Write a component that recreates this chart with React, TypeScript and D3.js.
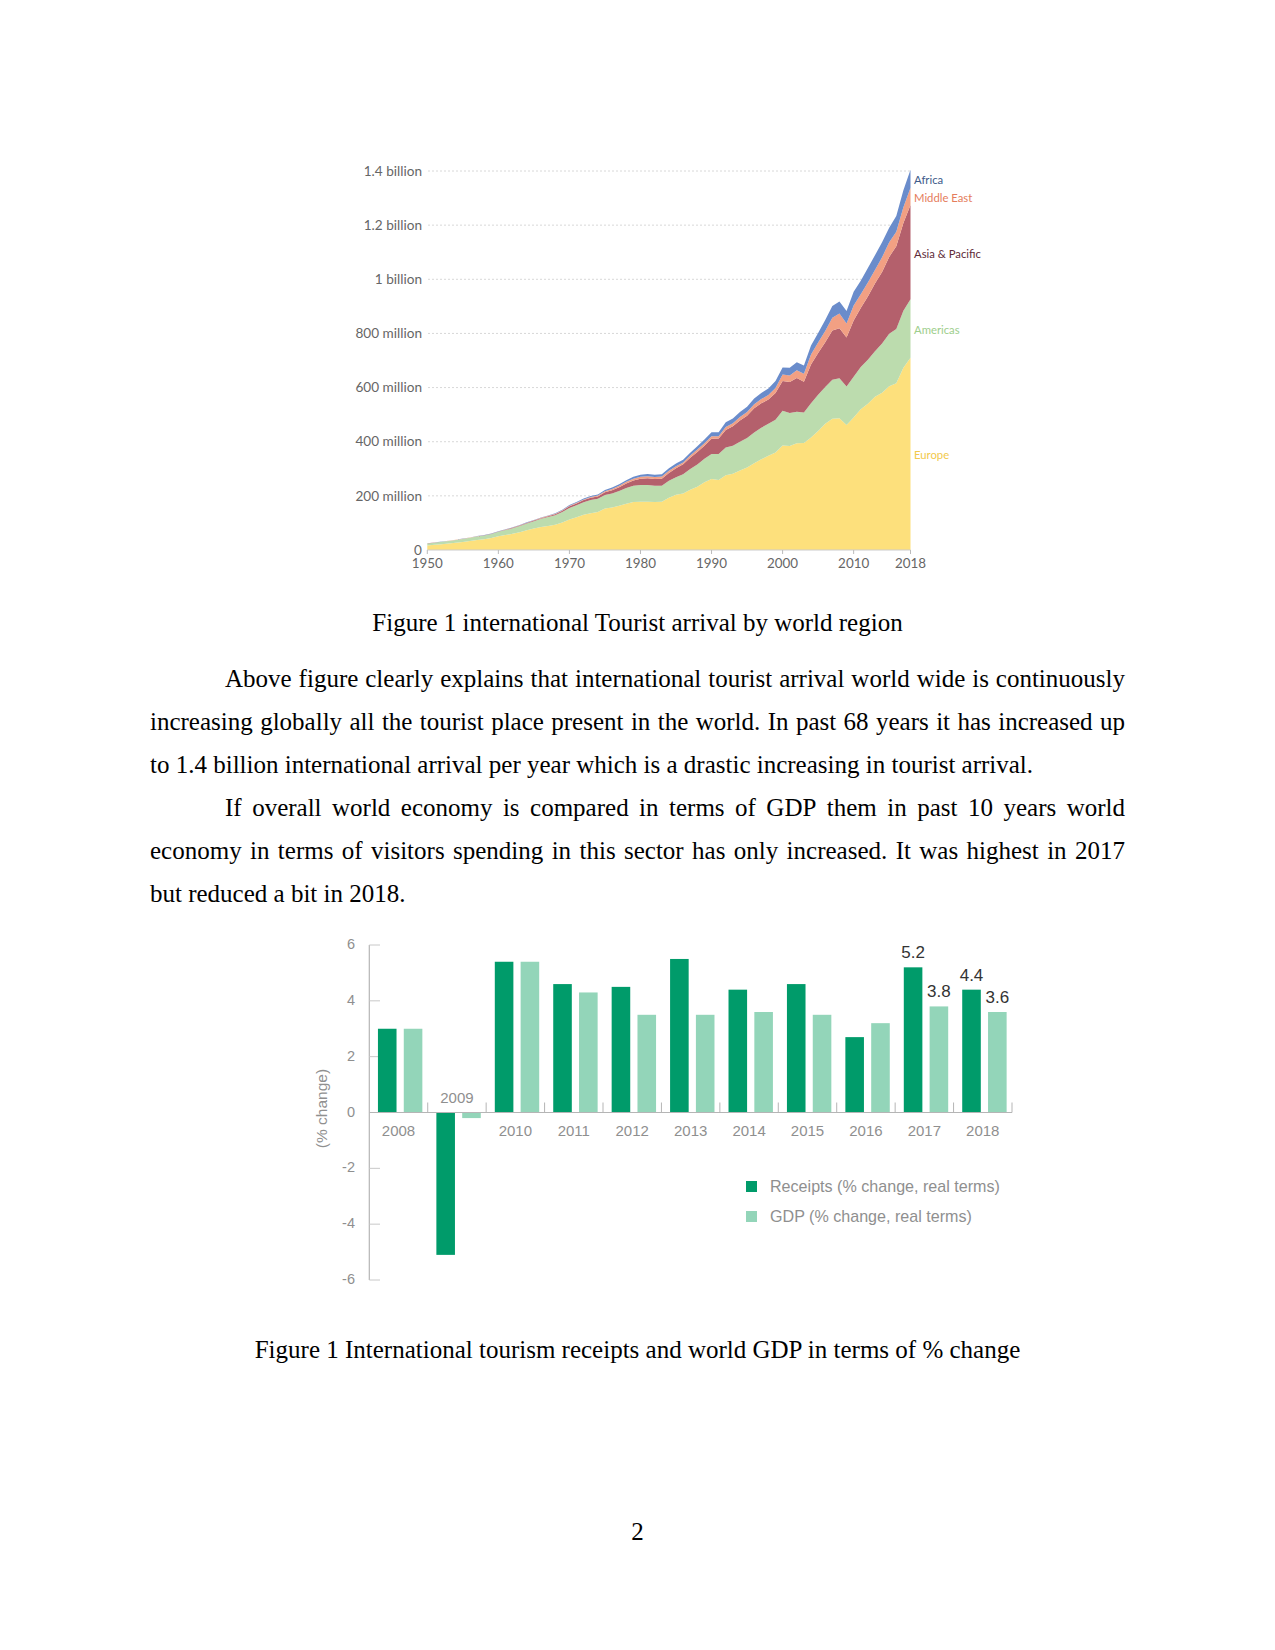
import React from 'react';
import * as d3 from 'd3';

// ---------- Chart 1 data: international tourist arrivals (millions) ----------
const arrivalYears = d3.range(1950, 2019);
const regionKeys = ['Europe', 'Americas', 'Asia & Pacific', 'Middle East', 'Africa'];
const europe = [
  16.8, 19.0, 21.5, 24.0, 27.0, 30.0, 33.5, 37.0, 40.0, 44.0,
  50.4, 55, 60, 66, 73, 79, 85, 89, 93, 102,
  113, 121, 130, 136, 140, 153, 157, 163, 171, 177,
  178, 178.5, 177, 178, 193, 204, 209, 223, 234, 250,
  262, 259, 276, 282, 294, 305, 320, 335, 348, 360,
  386, 384, 394, 395, 416, 440, 466, 485, 487, 462,
  489, 520, 540, 566, 581, 605, 616, 673, 710,
];
const americas = [
  7.5, 8.0, 8.6, 9.2, 9.8, 10.6, 11.5, 12.6, 13.6, 15.0,
  16.7, 18.5, 20.5, 22.8, 25.0, 27.5, 30.0, 33.0, 35.5, 38.5,
  42.3, 44.0, 46.5, 48.5, 49.0, 50.0, 52.0, 54.5, 58.0, 60.0,
  62.3, 62.0, 60.0, 59.5, 62.5, 65.1, 71.0, 76.5, 82.0, 87.0,
  92.8, 95.5, 102.5, 103.0, 105.5, 109.0, 114.5, 117.0, 118.5, 121.5,
  128.2, 122.1, 116.7, 113.1, 125.8, 133.3, 135.8, 143.9, 147.8, 141.7,
  150.7, 156.0, 163.1, 168.2, 182.0, 193.7, 200.0, 211.0, 216.0,
];
const asiaPacific = [
  0.2, 0.25, 0.3, 0.35, 0.4, 0.45, 0.5, 0.6, 0.7, 0.8,
  0.9, 1.1, 1.4, 1.7, 2.0, 2.1, 2.6, 3.1, 3.8, 4.7,
  6.2, 7.0, 7.8, 8.5, 9.0, 10.2, 12.0, 14.5, 17.0, 20.0,
  23.0, 24.5, 25.0, 26.0, 29.0, 32.9, 36.5, 41.5, 46.0, 48.0,
  55.8, 57.0, 65.0, 72.0, 79.0, 82.1, 89.0, 90.0, 89.5, 98.0,
  110.1, 114.5, 124.9, 113.3, 143.4, 154.0, 166.0, 182.0, 184.1, 181.1,
  208.2, 218.2, 233.6, 249.9, 264.3, 284.0, 306.0, 324.0, 348.0,
];
const middleEast = [
  0.2, 0.22, 0.25, 0.28, 0.3, 0.35, 0.4, 0.45, 0.5, 0.55,
  0.6, 0.7, 0.8, 0.9, 1.0, 1.1, 1.2, 1.1, 1.3, 1.6,
  1.9, 2.2, 2.6, 2.8, 3.2, 4.0, 4.5, 5.2, 6.0, 6.5,
  7.1, 7.5, 7.8, 7.9, 8.0, 7.5, 7.0, 8.0, 8.8, 9.0,
  9.6, 8.4, 11.0, 11.5, 12.5, 13.7, 15.0, 15.5, 16.5, 19.0,
  24.1, 24.0, 28.5, 29.5, 37.0, 39.0, 41.0, 47.0, 55.0, 52.0,
  55.4, 50.4, 51.7, 49.8, 54.0, 54.0, 54.0, 58.0, 64.0,
];
const africa = [
  0.5, 0.55, 0.6, 0.62, 0.65, 0.7, 0.72, 0.74, 0.76, 0.78,
  0.8, 0.9, 1.0, 1.1, 1.2, 1.3, 1.5, 1.6, 1.8, 2.1,
  2.4, 2.8, 3.2, 3.5, 4.0, 4.7, 5.0, 5.5, 6.0, 6.8,
  7.2, 8.0, 7.8, 8.5, 9.2, 9.7, 9.5, 10.5, 12.5, 13.8,
  14.8, 15.0, 17.0, 17.5, 18.5, 18.9, 21.0, 22.5, 24.5, 25.5,
  26.2, 28.3, 29.5, 30.7, 33.3, 35.4, 40.7, 43.4, 44.4, 45.9,
  50.4, 49.8, 52.9, 54.7, 55.7, 53.5, 57.8, 63.0, 67.0,
];
const arrivalSeries = [europe, americas, asiaPacific, middleEast, africa];
const yTickValues = [0, 200, 400, 600, 800, 1000, 1200, 1400];
const yTickLabels = ['0', '200 million', '400 million', '600 million', '800 million', '1 billion', '1.2 billion', '1.4 billion'];
const xTickYears = [1950, 1960, 1970, 1980, 1990, 2000, 2010, 2018];
const areaColors = ['#fde07c', '#bcdcae', '#b4606c', '#f2a083', '#6a8ccb'];
const labelColors = ['#f2c94c', '#9dce8c', '#5e2a38', '#e57c5c', '#3d5a8a'];

// ---------- Chart 2 data: receipts vs GDP (% change) ----------
const barYears = ['2008', '2009', '2010', '2011', '2012', '2013', '2014', '2015', '2016', '2017', '2018'];
const receipts = [3.0, -5.1, 5.4, 4.6, 4.5, 5.5, 4.4, 4.6, 2.7, 5.2, 4.4];
const gdp = [3.0, -0.2, 5.4, 4.3, 3.5, 3.5, 3.6, 3.5, 3.2, 3.8, 3.6];
const labeledBars = [
  { year: '2017', series: 'receipts', text: '5.2' },
  { year: '2017', series: 'gdp', text: '3.8' },
  { year: '2018', series: 'receipts', text: '4.4' },
  { year: '2018', series: 'gdp', text: '3.6' },
];
const barTicks = [-6, -4, -2, 0, 2, 4, 6];
const darkGreen = '#009b6a';
const lightGreen = '#93d5b9';

// ---------- Page text ----------
const caption1 = 'Figure 1 international Tourist arrival by world region';
const caption2 = 'Figure 1 International tourism receipts and world GDP in terms of % change';
const paraLines = [
  { text: 'Above figure clearly explains that international tourist arrival world wide is continuously', indent: true, justify: true },
  { text: 'increasing globally all the tourist place present in the world. In past 68 years it has increased up', indent: false, justify: true },
  { text: 'to 1.4 billion international arrival per year which is a drastic increasing in tourist arrival.', indent: false, justify: false },
  { text: 'If overall world economy is compared in terms of GDP them in past 10 years world', indent: true, justify: true },
  { text: 'economy in terms of visitors spending in this sector has only increased. It was highest in 2017', indent: false, justify: true },
  { text: 'but reduced a bit in 2018.', indent: false, justify: false },
];

const SERIF = "'Liberation Serif', 'Times New Roman', serif";
const FS = 25;
let ctx: CanvasRenderingContext2D | null = null;
function measure(t: string) {
  if (!ctx) {
    ctx = document.createElement('canvas').getContext('2d');
  }
  ctx!.font = `${FS}px 'Liberation Serif'`;
  return ctx!.measureText(t).width;
}

function JustLine({ text, x0, x1, y, justify }: { text: string; x0: number; x1: number; y: number; justify: boolean }) {
  if (!justify) {
    return <text x={x0} y={y} fontFamily={SERIF} fontSize={FS} fill="#000">{text}</text>;
  }
  const words = text.split(' ');
  const widths = words.map(measure);
  const total = d3.sum(widths);
  const gap = (x1 - x0 - total) / (words.length - 1);
  let cx = x0;
  const xs = widths.map((w) => {
    const p = cx;
    cx += w + gap;
    return p;
  });
  return (
    <text y={y} fontFamily={SERIF} fontSize={FS} fill="#000">
      {words.map((w, i) => (
        <tspan key={i} x={xs[i]}>{w}</tspan>
      ))}
    </text>
  );
}

function AreaChart() {
  const x = d3.scaleLinear().domain([1950, 2018]).range([427.3, 910.5]);
  const y = d3.scaleLinear().domain([0, 1400]).range([550, 171]);
  const rows = arrivalYears.map((yr, i) => {
    const r: any = { year: yr };
    regionKeys.forEach((k, j) => (r[k] = arrivalSeries[j][i]));
    return r;
  });
  const stacked = d3.stack().keys(regionKeys)(rows);
  const area = d3
    .area<any>()
    .x((d) => x(d.data.year))
    .y0((d) => y(d[0]))
    .y1((d) => y(d[1]));
  // label positions at last year, with simple collision push upward
  const last = stacked.map((s) => {
    const d = s[s.length - 1];
    return y((d[0] + d[1]) / 2);
  });
  const labelY = [...last];
  for (let i = 1; i < labelY.length; i++) {
    if (labelY[i - 1] - labelY[i] < 17) labelY[i] = labelY[i - 1] - 17;
  }
  const LATO = "Lato, 'Open Sans', sans-serif";
  return (
    <g>
      {yTickValues.map((v, i) => (
        <g key={v}>
          {v > 0 && (
            <line x1={428} x2={910.5} y1={y(v)} y2={y(v)} stroke="#d8d8d8" strokeDasharray="2,2" strokeWidth={1} />
          )}
          <text x={422} y={y(v)} dy="0.35em" textAnchor="end" fontFamily={LATO} fontSize={13.6} fill="#666">
            {yTickLabels[i]}
          </text>
        </g>
      ))}
      {stacked.map((s, i) => (
        <path key={s.key} d={area(s as any) || ''} fill={areaColors[i]} />
      ))}
      <line x1={427.3} x2={910.5} y1={y(0)} y2={y(0)} stroke="#ccc" strokeWidth={1} />
      {xTickYears.map((yr) => (
        <g key={yr}>
          <line x1={x(yr)} x2={x(yr)} y1={y(0)} y2={y(0) + 4} stroke="#bbb" />
          <text x={x(yr)} y={568} textAnchor="middle" fontFamily={LATO} fontSize={13.4} fill="#666">
            {yr}
          </text>
        </g>
      ))}
      {regionKeys.map((k, i) => (
        <text key={k} x={914} y={labelY[i] + 1.5} dy="0.35em" fontFamily={LATO} fontSize={11.3} fill={labelColors[i]}>
          {k}
        </text>
      ))}
    </g>
  );
}

function BarChart() {
  const SANS = "'Liberation Sans', Arial, Helvetica, sans-serif";
  const x = d3.scaleBand<string>().domain(barYears).range([369.3, 1012]).padding(0);
  const y = d3.scaleLinear().domain([-6, 6]).range([1280, 945]);
  const bw = x.bandwidth();
  const offR = bw * 0.148;
  const offG = bw * 0.59;
  const barW = bw * 0.318;
  const grey = '#8f8f8f';
  return (
    <g>
      {/* y axis */}
      <line x1={369.3} x2={369.3} y1={y(6)} y2={y(-6)} stroke="#b5b5b5" strokeWidth={1.2} />
      {barTicks.map((t) => (
        <g key={t}>
          <line x1={369.3} x2={380} y1={y(t)} y2={y(t)} stroke="#c8c8c8" strokeWidth={1} />
          <text x={355} y={y(t) - 1} dy="0.35em" textAnchor="end" fontFamily={SANS} fontSize={14.5} fill={grey}>
            {t}
          </text>
        </g>
      ))}
      <text
        transform={`translate(322,${y(0) - 4}) rotate(-90)`}
        textAnchor="middle"
        dy="0.35em"
        fontFamily={SANS}
        fontSize={15.5}
        fill={grey}
      >
        (% change)
      </text>
      {/* bars */}
      {barYears.map((yr, i) => (
        <g key={yr}>
          <rect
            x={(x(yr) as number) + offR}
            width={barW}
            y={y(Math.max(0, receipts[i]))}
            height={Math.abs(y(receipts[i]) - y(0))}
            fill={darkGreen}
          />
          <rect
            x={(x(yr) as number) + offG}
            width={barW}
            y={y(Math.max(0, gdp[i]))}
            height={Math.abs(y(gdp[i]) - y(0))}
            fill={lightGreen}
          />
        </g>
      ))}
      {/* x axis */}
      <line x1={369.3} x2={1012} y1={y(0)} y2={y(0)} stroke="#b5b5b5" strokeWidth={1.2} />
      {barYears.map((yr) => (
        <line
          key={'sep' + yr}
          x1={(x(yr) as number) + bw}
          x2={(x(yr) as number) + bw}
          y1={y(0) - 10}
          y2={y(0)}
          stroke="#b5b5b5"
          strokeWidth={1}
        />
      ))}
      {barYears.map((yr, i) => (
        <text
          key={'lbl' + yr}
          x={(x(yr) as number) + bw / 2}
          y={receipts[i] < 0 ? y(0) - 10 : y(0) + 23}
          textAnchor="middle"
          fontFamily={SANS}
          fontSize={15}
          fill={grey}
        >
          {yr}
        </text>
      ))}
      {labeledBars.map((l) => {
        const i = barYears.indexOf(l.year);
        const v = l.series === 'receipts' ? receipts[i] : gdp[i];
        const bx = (x(l.year) as number) + (l.series === 'receipts' ? offR : offG) + barW / 2;
        return (
          <text key={l.year + l.series} x={bx} y={y(v) - 9} textAnchor="middle" fontFamily={SANS} fontSize={17} fill="#333">
            {l.text}
          </text>
        );
      })}
      {/* legend */}
      <rect x={746} y={1181} width={11} height={11} fill={darkGreen} />
      <text x={770} y={1186.7} dy="0.35em" fontFamily={SANS} fontSize={16.1} fill={grey}>
        Receipts (% change, real terms)
      </text>
      <rect x={746} y={1211} width={11} height={11} fill={lightGreen} />
      <text x={770} y={1216.7} dy="0.35em" fontFamily={SANS} fontSize={16.1} fill={grey}>
        GDP (% change, real terms)
      </text>
    </g>
  );
}

export default function App() {
  const lineY = [687, 730, 773, 816, 859, 902];
  return (
    <svg
      width={1275}
      height={1650}
      viewBox="0 0 1275 1650"
      style={{ position: 'absolute', left: 0, top: 0, background: '#fff' }}
    >
      <rect x={0} y={0} width={1275} height={1650} fill="#fff" />
      <AreaChart />
      <text x={637.5} y={631} textAnchor="middle" fontFamily={SERIF} fontSize={FS}>
        {caption1}
      </text>
      {paraLines.map((l, i) => (
        <JustLine key={i} text={l.text} x0={l.indent ? 225 : 150} x1={1125} y={lineY[i]} justify={l.justify} />
      ))}
      <BarChart />
      <text x={637.5} y={1358} textAnchor="middle" fontFamily={SERIF} fontSize={FS}>
        {caption2}
      </text>
      <text x={637.5} y={1540} textAnchor="middle" fontFamily={SERIF} fontSize={FS}>
        2
      </text>
    </svg>
  );
}
